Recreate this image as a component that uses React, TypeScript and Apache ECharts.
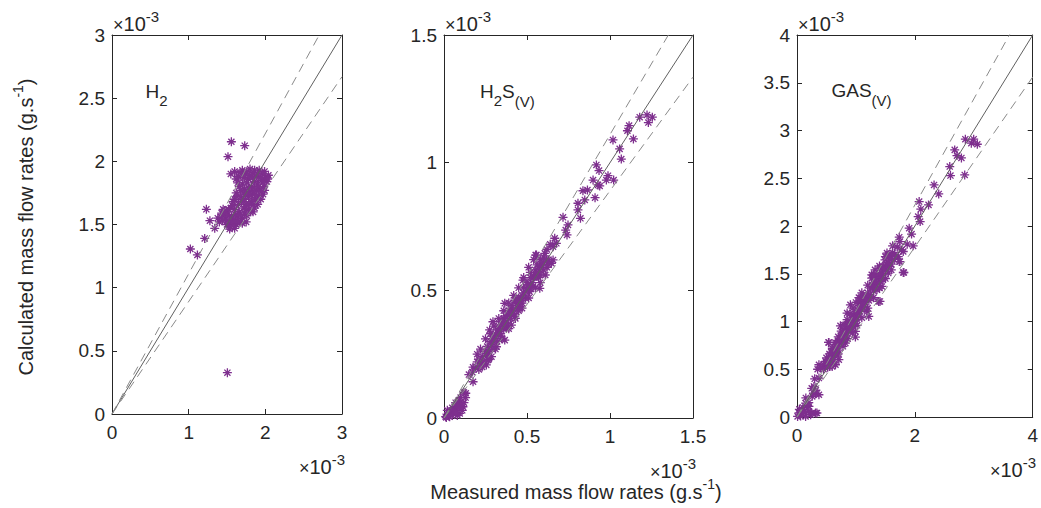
import React, { useEffect, useRef } from "react";
import * as echarts from "echarts";

const FONT = '"Liberation Sans", Arial, Helvetica, sans-serif';
const MARKER = "#7E2F8E";
const AX = "#262626";

// values in units of 1e-3 g.s^-1 : [measured, calculated]
const h2Data: number[][] = [
  [1.55, 1.9], [1.6, 1.92], [1.65, 1.88], [1.7, 1.93], [1.74, 1.9], [1.78, 1.86], [1.8, 1.94], [1.84, 1.91],
  [1.88, 1.88], [1.92, 1.93], [1.96, 1.9], [2.0, 1.87], [2.04, 1.89], [1.86, 1.84], [1.9, 1.82], [1.82, 1.8],
  [1.76, 1.83], [1.7, 1.82], [1.95, 1.85], [1.98, 1.8], [2.02, 1.84], [1.93, 1.78], [1.88, 1.77], [1.8, 1.76],
  [1.73, 1.78], [1.66, 1.8], [1.62, 1.75], [1.68, 1.72], [1.72, 1.7], [1.78, 1.72], [1.83, 1.74], [1.87, 1.7],
  [1.92, 1.72], [1.97, 1.74], [1.6, 1.7], [1.75, 1.66], [1.82, 1.68], [1.9, 1.66], [1.65, 1.66], [1.58, 1.68],
  [1.45, 1.62], [1.5, 1.6], [1.55, 1.63], [1.6, 1.62], [1.66, 1.6], [1.72, 1.63], [1.78, 1.62], [1.84, 1.6],
  [1.42, 1.56], [1.48, 1.55], [1.53, 1.57], [1.58, 1.54], [1.64, 1.56], [1.7, 1.55], [1.76, 1.57], [1.4, 1.52],
  [1.55, 1.51], [1.62, 1.5], [1.68, 1.52], [1.5, 1.5], [1.46, 1.58],
  [1.62, 1.86], [1.67, 1.91], [1.72, 1.87], [1.76, 1.92], [1.79, 1.89], [1.83, 1.87], [1.86, 1.93], [1.9, 1.9],
  [1.94, 1.87], [1.99, 1.92], [2.03, 1.86], [1.97, 1.83], [1.91, 1.8], [1.85, 1.79], [1.78, 1.79], [1.72, 1.75],
  [1.68, 1.77], [1.64, 1.83], [1.99, 1.77], [1.95, 1.76], [1.86, 1.74], [1.8, 1.73], [1.74, 1.74], [1.69, 1.68],
  [1.74, 1.64], [1.79, 1.66], [1.85, 1.66], [1.88, 1.73], [1.94, 1.7], [1.63, 1.72], [1.57, 1.65], [1.52, 1.62],
  [1.47, 1.61], [1.43, 1.59], [1.5, 1.53], [1.56, 1.56], [1.61, 1.58], [1.67, 1.58], [1.73, 1.59], [1.8, 1.6],
  [1.86, 1.63], [1.44, 1.53], [1.38, 1.55], [1.58, 1.52], [1.64, 1.53], [1.7, 1.51], [1.6, 1.47], [1.54, 1.48],
  [1.557, 2.155], [1.731, 2.124], [1.513, 2.037], [1.231, 1.62], [1.277, 1.53], [1.34, 1.47], [1.209, 1.39],
  [1.022, 1.306], [1.114, 1.259], [1.535, 1.464], [1.75, 1.52], [1.505, 0.327],
];

const h2sData: number[][] = [
  [1.179, 1.178], [1.223, 1.187], [1.255, 1.178], [1.231, 1.157], [1.115, 1.145], [1.105, 1.125], [1.141, 1.093],
  [1.018, 1.089], [1.058, 1.054], [1.068, 1.014], [0.918, 0.991], [0.934, 0.969], [0.988, 0.949], [0.978, 0.932],
  [1.022, 0.932], [0.898, 0.932], [0.928, 0.913], [0.938, 0.909], [0.837, 0.89], [0.864, 0.893], [0.91, 0.863],
  [0.848, 0.854], [0.807, 0.841], [0.807, 0.815], [0.822, 0.782], [0.717, 0.786], [0.747, 0.756], [0.733, 0.736],
  [0.741, 0.717], [0.667, 0.704], [0.677, 0.684], [0.657, 0.671], [0.552, 0.638], [0.607, 0.645], [0.617, 0.619],
  [0.647, 0.606], [0.576, 0.593], [0.557, 0.638], [0.657, 0.619],
  [0.52, 0.57], [0.55, 0.58], [0.58, 0.56], [0.6, 0.58], [0.62, 0.59], [0.54, 0.55], [0.577, 0.58], [0.546, 0.553],
  [0.476, 0.54], [0.506, 0.521], [0.536, 0.514], [0.516, 0.495], [0.577, 0.508], [0.5, 0.5], [0.48, 0.49],
  [0.466, 0.469], [0.366, 0.449], [0.426, 0.462], [0.406, 0.43], [0.456, 0.436], [0.44, 0.45], [0.47, 0.45],
  [0.386, 0.403], [0.426, 0.397], [0.41, 0.42], [0.45, 0.42], [0.295, 0.377], [0.346, 0.377], [0.36, 0.39],
  [0.38, 0.38], [0.325, 0.345], [0.376, 0.351], [0.406, 0.364], [0.275, 0.345], [0.35, 0.36], [0.305, 0.318],
  [0.346, 0.312], [0.366, 0.305], [0.33, 0.33], [0.286, 0.286], [0.316, 0.279], [0.3, 0.3], [0.255, 0.253],
  [0.286, 0.24], [0.265, 0.227], [0.27, 0.26], [0.225, 0.214], [0.255, 0.208], [0.175, 0.199], [0.175, 0.142],
  [0.131, 0.097], [0.095, 0.058], [0.114, 0.044], [0.075, 0.031], [0.054, 0.018], [0.034, 0.005], [0.014, 0.002],
  [0.095, 0.018], [0.065, 0.044], [0.02, 0.01], [0.04, 0.02], [0.08, 0.01], [0.11, 0.03], [0.12, 0.06],
  [0.15, 0.17], [0.17, 0.18], [0.19, 0.2], [0.2, 0.22], [0.21, 0.19], [0.23, 0.24], [0.24, 0.22], [0.26, 0.28],
  [0.27, 0.24], [0.28, 0.3], [0.29, 0.27], [0.31, 0.33], [0.32, 0.3], [0.33, 0.35], [0.34, 0.33], [0.35, 0.38],
  [0.36, 0.35], [0.37, 0.4], [0.38, 0.36], [0.39, 0.42], [0.4, 0.39], [0.41, 0.44], [0.42, 0.41], [0.43, 0.46],
  [0.44, 0.43], [0.45, 0.47], [0.46, 0.45], [0.48, 0.51], [0.49, 0.47], [0.5, 0.53], [0.51, 0.5], [0.52, 0.55],
  [0.53, 0.53], [0.55, 0.56], [0.56, 0.6], [0.57, 0.55], [0.58, 0.62], [0.59, 0.6], [0.6, 0.63], [0.62, 0.66],
  [0.63, 0.62], [0.64, 0.68], [0.02, 0.03], [0.03, 0.02], [0.05, 0.04], [0.06, 0.03], [0.07, 0.06], [0.08, 0.05],
  [0.09, 0.07], [0.1, 0.05], [0.1, 0.08], [0.12, 0.1], [0.13, 0.08], [0.01, 0.005], [0.05, 0.01], [0.07, 0.02],
  [0.09, 0.04],
  [0.2, 0.25], [0.22, 0.27], [0.25, 0.31], [0.28, 0.33], [0.3, 0.36], [0.33, 0.39], [0.36, 0.42], [0.39, 0.45],
  [0.42, 0.48], [0.45, 0.51], [0.48, 0.55], [0.51, 0.59], [0.54, 0.62], [0.23, 0.2], [0.27, 0.23], [0.31, 0.27],
  [0.35, 0.31], [0.39, 0.35], [0.43, 0.39], [0.47, 0.43], [0.51, 0.47], [0.55, 0.51], [0.58, 0.53], [0.61, 0.56],
  [0.6, 0.61], [0.63, 0.6], [0.21, 0.23], [0.25, 0.26], [0.29, 0.31], [0.33, 0.36], [0.37, 0.37], [0.4, 0.41],
  [0.44, 0.46], [0.47, 0.48], [0.52, 0.52], [0.56, 0.57],
];

const gasData: number[][] = [
  [2.857, 2.909], [2.998, 2.909], [2.958, 2.867], [3.06, 2.856], [2.676, 2.797], [2.715, 2.737], [2.79, 2.713],
  [2.592, 2.622], [2.604, 2.528], [2.846, 2.535], [2.326, 2.43], [2.405, 2.336], [2.073, 2.256], [2.232, 2.221],
  [2.101, 2.176], [2.056, 2.099], [2.09, 2.046], [1.904, 1.977], [1.944, 1.915], [1.735, 1.883], [1.746, 1.837],
  [1.623, 1.792], [1.87, 1.81], [1.971, 1.792], [1.775, 1.75], [1.718, 1.68], [1.803, 1.733], [1.549, 1.698],
  [1.493, 1.646], [1.746, 1.628], [1.464, 1.576], [1.408, 1.559], [1.324, 1.541], [1.268, 1.489], [1.803, 1.513],
  [1.549, 1.507], [1.38, 1.471], [1.268, 1.454], [1.527, 1.716], [1.611, 1.698], [1.442, 1.559], [1.302, 1.489],
  [1.555, 1.576], [1.735, 1.628], [1.414, 1.419], [1.442, 1.367], [1.357, 1.332], [1.273, 1.384], [1.386, 1.21],
  [1.133, 1.262], [1.076, 1.245], [1.049, 1.193], [1.105, 1.158], [0.906, 1.175], [1.189, 1.105], [1.218, 1.053],
  [0.85, 1.088], [0.964, 1.07], [1.02, 1.018], [0.737, 0.955], [0.822, 0.966], [0.906, 0.931], [0.991, 0.896],
  [0.991, 0.837], [0.795, 0.843], [0.737, 0.809], [0.822, 0.774], [0.681, 0.756], [0.541, 0.781], [0.626, 0.704],
  [0.681, 0.652], [0.568, 0.634], [0.71, 0.6], [0.484, 0.582], [0.372, 0.547], [0.456, 0.529], [0.597, 0.529],
  [0.653, 0.547], [0.372, 0.408], [0.287, 0.32], [0.315, 0.244], [0.372, 0.233], [0.259, 0.216], [0.146, 0.146],
  [0.203, 0.111], [0.09, 0.076], [0.034, 0.042], [0.01, 0.006], [0.315, 0.042], [0.231, 0.024], [0.146, 0.006],
  [0.061, 0.01], [0.338, 0.042], [1.814, 1.513], [1.408, 1.21], [0.535, 0.781],
  [1.1, 1.2], [1.15, 1.25], [1.0, 1.1], [0.95, 1.0], [0.9, 1.0], [0.85, 0.95], [0.8, 0.9], [0.75, 0.85],
  [0.7, 0.8], [0.65, 0.7], [0.6, 0.65], [0.55, 0.6], [0.5, 0.55], [0.45, 0.5], [1.2, 1.3], [1.25, 1.35],
  [1.3, 1.4], [1.35, 1.45], [1.45, 1.5], [1.5, 1.55], [1.6, 1.6], [1.65, 1.65], [0.1, 0.1], [0.2, 0.15], [0.25, 0.3],
  [0.45, 0.55], [0.5, 0.58], [0.52, 0.52], [0.55, 0.6], [0.58, 0.62], [0.6, 0.58], [0.62, 0.68], [0.65, 0.66],
  [0.68, 0.74], [0.7, 0.7], [0.72, 0.78], [0.75, 0.78], [0.77, 0.86], [0.8, 0.82], [0.82, 0.9], [0.84, 0.88],
  [0.87, 0.94], [0.88, 0.9], [0.9, 0.96], [0.93, 1.02], [0.95, 0.95], [0.97, 1.05], [1.0, 1.05], [1.03, 1.12],
  [1.05, 1.08], [1.08, 1.2], [1.1, 1.12], [1.12, 1.26], [1.15, 1.2], [1.18, 1.24], [1.22, 1.28], [1.25, 1.26],
  [1.28, 1.36], [1.3, 1.32], [1.33, 1.42], [1.36, 1.4], [1.4, 1.5], [1.43, 1.46], [1.47, 1.56], [1.52, 1.6],
  [1.55, 1.62], [1.58, 1.66], [1.62, 1.72], [1.66, 1.7], [1.7, 1.78], [0.15, 0.2], [0.18, 0.12], [0.05, 0.02],
  [0.08, 0.04], [0.12, 0.05], [0.2, 0.06], [0.25, 0.04], [0.04, 0.08], [0.28, 0.25], [0.32, 0.28], [0.3, 0.4],
  [0.35, 0.5], [0.4, 0.52],
  [0.5, 0.62], [0.55, 0.66], [0.6, 0.72], [0.65, 0.78], [0.7, 0.84], [0.75, 0.9], [0.8, 0.96], [0.85, 1.02],
  [0.9, 1.08], [0.95, 1.14], [1.0, 1.2], [1.05, 1.25], [1.1, 1.3], [1.2, 1.38], [1.3, 1.48], [1.4, 1.58],
  [1.5, 1.68], [0.55, 0.53], [0.62, 0.6], [0.7, 0.66], [0.78, 0.74], [0.86, 0.82], [0.94, 0.88], [1.02, 0.96],
  [1.1, 1.04], [1.2, 1.14], [1.3, 1.25], [1.4, 1.35], [1.5, 1.45], [1.6, 1.54], [0.58, 0.68], [0.66, 0.74],
  [0.74, 0.82], [0.82, 0.84], [0.9, 0.92], [0.98, 0.98], [1.06, 1.14], [1.14, 1.16], [1.22, 1.22], [1.34, 1.36],
  [1.46, 1.44],
];

const axisMax = [3, 1.5, 4];
const xIntervals = [1, 0.5, 2];
const yIntervals = [0.5, 0.5, 0.5];
const upperSlope = 1.11;
const lowerSlope = 0.89;
const seriesData = [h2Data, h2sData, gasData];

const grids = [
  { left: 112, top: 35, width: 230, height: 379 },
  { left: 444, top: 35, width: 249, height: 383 },
  { left: 797, top: 35, width: 236, height: 382 },
];

const ASTERISK = "path://M5,0L5,10M0,5L10,5M1.6,1.6L8.4,8.4M1.6,8.4L8.4,1.6";

let measureCtx: CanvasRenderingContext2D | null = null;
function tw(t: string, fs: number): number {
  if (!measureCtx) measureCtx = document.createElement("canvas").getContext("2d");
  if (!measureCtx) return t.length * fs * 0.55;
  measureCtx.font = `${fs}px "Liberation Sans"`;
  return measureCtx.measureText(t).width;
}

type Seg = { t: string; fs: number; dy: number };
function composite(segs: Seg[], x: number, y: number, align: "left" | "center" | "right", rotation = 0) {
  const widths = segs.map((s) => tw(s.t, s.fs));
  const total = widths.reduce((a, b) => a + b, 0);
  let cx = align === "left" ? 0 : align === "center" ? -total / 2 : -total;
  const children = segs.map((s, i) => {
    const el = {
      type: "text",
      x: cx,
      y: s.dy,
      style: {
        text: s.t,
        font: `${s.fs}px ${FONT}`,
        fill: AX,
        textAlign: "left",
        textVerticalAlign: "middle",
      },
    };
    cx += widths[i];
    return el;
  });
  return { type: "group", x, y, rotation, children, silent: true };
}

const times = "\u00d7";
function exponentLabel(x: number, y: number, align: "left" | "right") {
  return composite(
    [
      { t: times, fs: 18, dy: 1 },
      { t: "10", fs: 20, dy: 0 },
      { t: "-3", fs: 15, dy: -8 },
    ],
    x,
    y,
    align
  );
}

export default function App() {
  const ref = useRef<HTMLDivElement>(null);
  useEffect(() => {
    if (!ref.current) return;
    const chart = echarts.init(ref.current, undefined, { renderer: "svg" });

    const xAxis: any[] = [];
    const yAxis: any[] = [];
    const series: any[] = [];
    grids.forEach((g, i) => {
      const max = axisMax[i];
      const common = {
        gridIndex: i,
        type: "value",
        min: 0,
        max,
        splitLine: { show: false },
        axisLine: { show: true, onZero: false, lineStyle: { color: AX, width: 1 } },
        axisTick: { show: true, inside: true, length: 5, lineStyle: { color: AX, width: 1 } },
      };
      xAxis.push({
        ...common,
        interval: xIntervals[i],
        position: "bottom",
        axisLabel: { color: AX, fontSize: 19, fontFamily: FONT, margin: 9 },
      });
      xAxis.push({ ...common, interval: xIntervals[i], position: "top", axisLabel: { show: false } });
      yAxis.push({
        ...common,
        interval: yIntervals[i],
        position: "left",
        axisLabel: { color: AX, fontSize: 19, fontFamily: FONT, margin: 7 },
      });
      yAxis.push({ ...common, interval: yIntervals[i], position: "right", axisLabel: { show: false } });

      const ax = { xAxisIndex: i * 2, yAxisIndex: i * 2 };
      series.push({
        type: "scatter",
        ...ax,
        data: seriesData[i],
        symbol: ASTERISK,
        symbolSize: 9,
        itemStyle: { color: "rgba(0,0,0,0)", borderColor: MARKER, borderWidth: 1.3, opacity: 1 },
        z: 2,
        silent: true,
      });
      const lineBase = { type: "line", ...ax, symbol: "none", showSymbol: false, silent: true, clip: true, z: 3 };
      series.push({
        ...lineBase,
        data: [[0, 0], [max, max]],
        lineStyle: { color: "#606060", width: 1 },
      });
      series.push({
        ...lineBase,
        data: [[0, 0], [max, max * upperSlope]],
        lineStyle: { color: "#8a8a8a", width: 1, type: [9, 6] },
      });
      series.push({
        ...lineBase,
        data: [[0, 0], [max, max * lowerSlope]],
        lineStyle: { color: "#8a8a8a", width: 1, type: [9, 6] },
      });
    });

    const graphic: any[] = [];
    grids.forEach((g) => {
      graphic.push(exponentLabel(g.left + 1, 24, "left"));
      graphic.push(exponentLabel(g.left + g.width + 3, g.top + g.height + 53, "right"));
    });
    graphic.push(
      composite(
        [
          { t: "H", fs: 19, dy: 0 },
          { t: "2", fs: 15, dy: 9 },
        ],
        145.5,
        91,
        "left"
      )
    );
    graphic.push(
      composite(
        [
          { t: "H", fs: 19, dy: 0 },
          { t: "2", fs: 15, dy: 9 },
          { t: "S", fs: 19, dy: 0 },
          { t: "(V)", fs: 15, dy: 10 },
        ],
        480,
        91,
        "left"
      )
    );
    graphic.push(
      composite(
        [
          { t: "GAS", fs: 19, dy: 0 },
          { t: "(V)", fs: 15, dy: 10 },
        ],
        831.5,
        90,
        "left"
      )
    );
    graphic.push(
      composite(
        [
          { t: "Calculated mass flow rates (g.s", fs: 20, dy: 0 },
          { t: "-1", fs: 14, dy: -8 },
          { t: ")", fs: 20, dy: 0 },
        ],
        26,
        227,
        "center",
        Math.PI / 2
      )
    );
    graphic.push(
      composite(
        [
          { t: "Measured mass flow rates (g.s", fs: 20, dy: 0 },
          { t: "-1", fs: 14, dy: -8 },
          { t: ")", fs: 20, dy: 0 },
        ],
        576,
        492,
        "center"
      )
    );

    chart.setOption({
      animation: false,
      backgroundColor: "#ffffff",
      grid: grids.map((g) => ({ ...g, containLabel: false })),
      xAxis,
      yAxis,
      series,
      graphic,
    });
    return () => chart.dispose();
  }, []);
  return (
    <div
      ref={ref}
      style={{ position: "absolute", left: 0, top: 0, width: 1041, height: 508, background: "#fff" }}
    />
  );
}
